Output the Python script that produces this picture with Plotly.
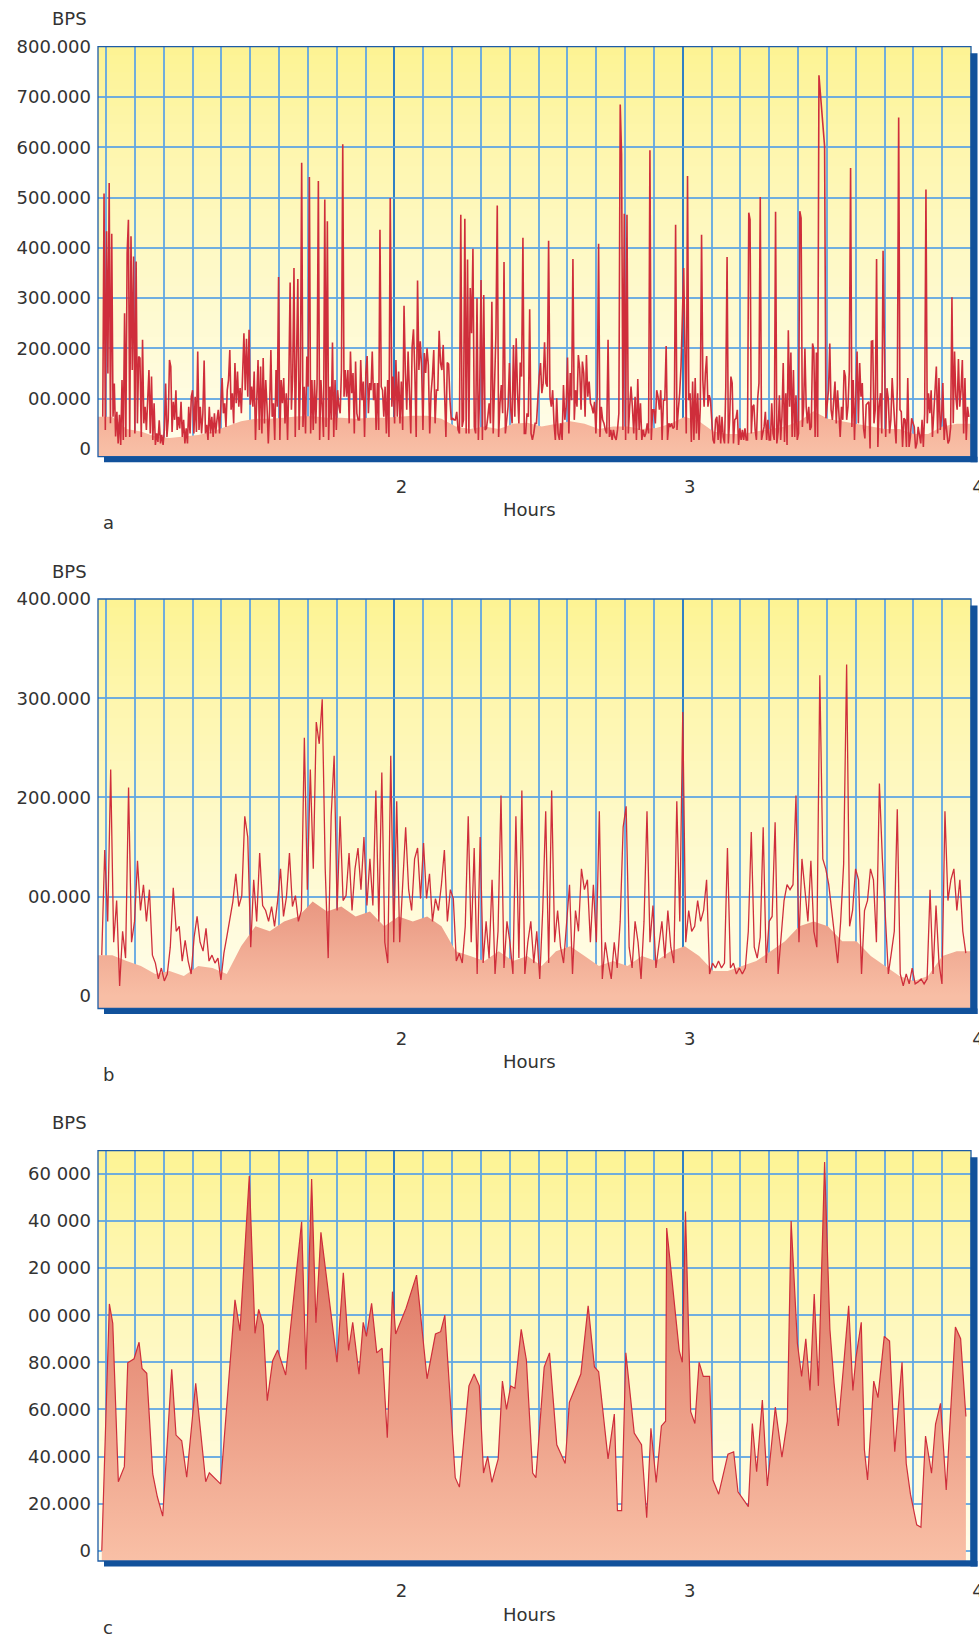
import numpy as np
import plotly.graph_objects as go

# ----------------------------- DATA (values in thousands of BPS) -----------------------------
# Panel a: raw samples, four contiguous runs of equally spaced samples
A1_KBPS = [64,508,38,433,150,529,51,428,64,130,
           25,74,11,68,8,137,18,270,24,390,
           456,24,423,157,383,31,373,51,184,181,
           24,217,51,84,38,84,157,31,144,18,
           91,8,31,14,57,11,28,8,38,130,
           24,58,177,164,34,94,58,117,38,64,
           41,94,24,58,11,41,11,84,31,104,
           117,31,104,34,194,38,84,31,71,176,
           31,48,18,84,31,64,24,71,31,58,
           78,31,97,141,71,91,44,117,137,197,
           78,111,51,171,91,154,84,121,71,151,
           230,117,219,104,237,88,124,84,154,18,
           111,177,38,164,31,181,51,137,84,11,
           78,197,64,91,18,157,84,342,18,137,
           91,141,51,111,18,137,331,78,144,360,
           24,171,338,38,137,569,44,124,31,184,
           124,541,31,137,38,137,51,131,533,18,
           137,84,24,496,44,453,18,124,58,212,
           24,137,38,117,84,71,157,606,104,157,
           104,157,51,194,111,151,31,174,71,58,
           58,177,97,134,24,151,185,71,131,117,
           194,97,131,38,131,38,436,124,117,64,
           124,31,137,24,499]
A1_HOURS = (0.9885, 1.9856)

A2_KBPS = [84,144,51,177,64,154,51,134,38,285,
           151,78,194,124,31,204,238,151,24,335,
           157,214,164,38,191,151,200,167,31,111,
           144,197,51,117,117,235,171,157,207,111,
           24,172,169,97,58,61,58,58,74,38,
           31,466,44,58,458,31,377,31,320,230,
           398,44,31,300,18,117,336,18,306,38,
           41,64,91,51,293,31,131,227,484,24,
           91,127,71,372,31,64,84,171,78,51,
           207,64,220,111,51,172,144,420,31,31,
           71,64,278,31,18,31,51,51,107,144,
           171,111,131,212,131,124,414,104,84,117,
           51,18,101,31,18,51,18,127,58,84,
           182,31,151,97,378,58,117,84,187,161,
           78,174,151,64,187,104,134,91,84,71,
           94,31,111,408,24,84,58,51,38,31,
           217,24,38,18,38,24,18,38,71,685,
           586,38,468,18,466,31,84,124,84,31,
           104,18,139,38,91,18,38,24,31,51,
           31,594,18,78,78,51,117,104,78,117,
           18,97,97,205,18,51,44,51,41,44,
           446,38,78,111,164]
A2_HOURS = (1.9913, 2.9942)

A3_KBPS = [360,191,31,543,97,111,14,134,18,141,
           31,111,18,84,426,137,84,151,185,84,
           107,97,64,18,11,58,64,18,67,11,
           64,24,11,124,382,11,58,144,131,11,
           58,61,78,8,41,18,38,18,41,18,
           18,470,456,31,84,88,38,18,101,131,
           501,18,31,44,74,18,58,18,18,91,
           31,18,472,11,34,107,18,64,171,14,
           111,8,236,84,192,24,157,24,107,18,
           31,473,459,44,84,200,84,51,84,38,
           44,210,197,24,192,24,743]
A3_HOURS = (3.0035, 3.4726)

A4_KBPS = [602,61,91,117,210,78,58,111,134,51,
           117,71,24,84,58,157,144,58,84,154,
           559,44,137,18,117,194,51,171,104,131,
           41,21,88,91,94,1,214,215,51,78,
           378,4,84,111,31,394,207,24,121,101,
           31,58,141,78,48,11,127,659,78,74,
           4,61,58,4,141,4,24,61,54,44,
           1,11,44,24,11,58,4,71,516,51,
           111,71,117,24,64,117,164,31,141,38,
           64,131,18,61,31,11,18,44,302,51,
           194,104,78,179,84,117,177,31,141,18,
           84,64]
A4_HOURS = (3.4922, 3.9925)

# Panel a: averaged traffic (filled area)
A_AVG_KBPS = [64,64,40,35,25,22,25,28,35,45,55,60,60,62,65,65,62,62,60,62,
              62,64,66,66,60,45,40,45,40,50,52,45,50,55,50,40,45,45,40,42,
              50,64,55,35,30,30,35,40,45,55,75,60,55,50,45,40,40,30,30,45,
              50,50]
A_AVG_HOURS = (0.972, 4.0)

# Panel b: raw samples
B_KBPS = [41,147,75,228,54,96,10,65,38,210,
          54,75,136,86,112,75,107,41,33,17,
          28,15,22,49,109,65,70,35,56,35,
          22,59,80,54,45,68,35,41,33,38,
          16,43,60,80,95,123,90,101,181,160,
          49,117,75,144,91,86,75,90,70,95,
          128,80,100,144,90,101,75,86,260,107,
          228,128,276,254,299,128,38,181,242,86,
          181,96,101,144,86,128,149,107,160,91,
          138,91,207,75,225,54,33,242,54,196,
          54,112,170,107,86,138,149,98,154,98,
          123,75,98,86,112,147,75,107,98,35,
          43,33,70,181,54,149,22,160,33,75,
          38,117,22,65,202,28,75,54,22,181,
          38,207,22,54,75,33,65,17,86,186,
          33,207,54,86,49,33,75,112,22,86,
          65,128,107,117,54,112,54,186,17,54,
          33,17,54,28,75,170,191,49,28,75,
          54,17,75,186,54,91,28,54,75,38,
          86,49,33,196,75,286,54,86,65,70,
          96,75,86,117,22,33,28,35,28,33,
          149,28,33,22,28,22,28,65,165,49,
          38,59,170,33,75,80,175,22,59,96,
          112,107,112,202,54,138,107,75,136,65,
          49,323,138,128,112,86,54,33,75,133,
          334,70,86,128,117,22,86,96,128,117,
          54,214,138,75,22,43,65,188,22,10,
          22,12,28,12,14,17,12,17,107,22,
          91,33,12,186,96,117,128,86,117,65,
          43]
B_HOURS = (0.985, 3.982)

# Panel b: averaged traffic (filled area)
B_AVG_KBPS = [41,41,35,30,22,25,20,30,28,22,50,70,65,75,80,95,85,90,80,85,
              70,80,75,80,70,45,40,35,45,35,40,30,45,50,40,30,35,30,40,35,
              45,50,40,25,25,30,35,45,55,70,75,70,55,55,40,30,20,15,20,40,
              45,45]
B_AVG_HOURS = (0.972, 4.0)

# Panel c: samples with their times (hours)
C_HOURS = [0.9851,1.0114,1.0232,1.0426,1.0634,1.0752,1.0971,1.1144,1.1248,1.1411,
           1.1619,1.1778,1.1965,1.2277,1.2426,1.2624,1.2797,1.3109,1.3456,1.3581,
           1.3976,1.4471,1.4645,1.4967,1.5165,1.5293,1.5452,1.5591,1.5778,1.5951,
           1.6229,1.6783,1.6932,1.7130,1.7279,1.7452,1.8010,1.8229,1.8412,1.8555,
           1.8773,1.8919,1.9029,1.9210,1.9390,1.9574,1.9754,1.9934,2.0045,2.0406,
           2.0769,2.1133,2.1425,2.1605,2.1750,2.2111,2.2256,2.2586,2.2766,2.2946,
           2.3092,2.3237,2.3383,2.3601,2.3747,2.3889,2.4035,2.4180,2.4399,2.4579,
           2.4797,2.4908,2.5196,2.5380,2.5633,2.5924,2.6069,2.6357,2.6468,2.6721,
           2.6939,2.7085,2.7411,2.7629,2.7737,2.7882,2.8028,2.8319,2.8572,2.8752,
           2.8898,2.9081,2.9262,2.9407,2.9445,2.9879,2.9986,3.0097,
           3.0277,3.0423,3.0569,3.0714,3.0932,3.1050,3.1248,3.1570,3.1768,3.1917,
           3.2277,3.2416,3.2565,3.2763,3.2936,3.3213,3.3442,3.3629,3.3761,3.3979,
           3.4125,3.4270,3.4416,3.4562,3.4707,3.4922,3.5106,3.5251,3.5397,3.5577,
           3.5757,3.5903,3.6010,3.6194,3.6302,3.6412,3.6627,3.6773,3.6991,3.7175,
           3.7355,3.7608,3.7754,3.7899,3.8118,3.8263,3.8423,3.8631,3.8770,3.8943,
           3.9141,3.9459,3.9640,3.9823]
C_KBPS = [0,104.8,96.6,29.3,35.7,79.8,81.5,88.5,77.4,75.3,
          32.6,22.9,14.7,77,49.1,46.7,31.2,71.1,29.3,33.1,
          28.3,106.5,93.4,159.1,92.3,102.5,95.8,63.7,80.7,85.2,
          74.6,139.7,77,157.8,96.8,135.2,80,118,85,97,
          75,97,91,105,84,86,48,110,92,103,
          117,73,92,93,100,31,27,70,75,70,
          33,40,29,39,72,60,70,69,94,81,
          33,31,78,84,45,37,63,72,75,104,
          78,76,39,58,17,17,84,50,45,14,
          52,29,53,55,137,85,80,144,
          59,54,80,74,74,30,24,41,42,25,
          18.7,54,33.5,64,27.5,61,39.7,55,140,88,
          74,90,68,109,70,165,94,71,53,78,
          104,68,82,97,43,30,72,65,91,89,
          42,80,37,24,11,10,48.7,32.9,53.8,62.6,
          25.8,95,90,57]

# Tick values / labels
X_TICKS = [2, 3, 4]
X_TICK_TEXT = ["2", "3", "4"]
A_Y_TICKS = [0, 100000, 200000, 300000, 400000, 500000, 600000, 700000, 800000]
A_Y_TEXT = ["0", "00.000", "200.000", "300.000", "400.000", "500.000", "600.000", "700.000", "800.000"]
B_Y_TICKS = [0, 100000, 200000, 300000, 400000]
B_Y_TEXT = ["0", "00.000", "200.000", "300.000", "400.000"]
C_Y_TICKS = [0, 20000, 40000, 60000, 80000, 100000, 120000, 140000, 160000]
C_Y_TEXT = ["0", "20.000", "40.000", "60.000", "80.000", "00 000", "20 000", "40 000", "60 000"]

# ----------------------------- LAYOUT / STYLE -----------------------------
FIG_W, FIG_H = 979, 1641
X_RANGE = [0.972, 4.0]
PANELS = [
    dict(name="a", box=(98, 46.7, 971, 456.7), yr=[-15300, 800000], yt=A_Y_TICKS, ytx=A_Y_TEXT),
    dict(name="b", box=(98, 599, 971, 1008.5), yr=[-12800, 400000], yt=B_Y_TICKS, ytx=B_Y_TEXT),
    dict(name="c", box=(98, 1150.7, 971, 1561), yr=[-4370, 169850], yt=C_Y_TICKS, ytx=C_Y_TEXT),
]
FONT = "DejaVu Sans, Verdana, sans-serif"
FSIZE = 18
TXT = "#333333"
GRID = "rgba(96,165,226,0.9)"
GRID_MAJOR = "#2f80c4"
LINE_RED = "#cf2e3b"
SHADOW = "#11519b"
BORDER = "#1d5ca6"


def px(x):
    return x / FIG_W


def py(y):
    return 1 - y / FIG_H


def run_x(vals, span):
    return np.linspace(span[0], span[1], len(vals))


fig = go.Figure()
shapes, annotations = [], []

for i, p in enumerate(PANELS):
    sfx = "" if i == 0 else str(i + 1)
    xa, ya = "x" + sfx, "y" + sfx
    l, t, r, b = p["box"]
    fig.layout["xaxis" + sfx] = dict(
        domain=[px(l), px(r)], range=X_RANGE, anchor=ya, automargin=False, fixedrange=True,
        tickvals=X_TICKS, ticktext=X_TICK_TEXT, ticks="", showline=False, zeroline=False,
        showgrid=True, gridcolor=GRID_MAJOR, gridwidth=1.6,
        minor=dict(tick0=1, dtick=0.1, showgrid=True, gridcolor=GRID, gridwidth=1.5),
        tickfont=dict(family=FONT, size=FSIZE, color=TXT), ticklabeloverflow="allow",
        ticklabelstandoff=17, ticklabelshift=7,
    )
    fig.layout["yaxis" + sfx] = dict(
        domain=[py(b), py(t)], range=p["yr"], anchor=xa, automargin=False, fixedrange=True,
        tickvals=p["yt"], ticktext=p["ytx"], ticks="", showline=False, zeroline=False,
        showgrid=True, gridcolor=GRID, gridwidth=1.5, ticklabeloverflow="allow",
        tickfont=dict(family=FONT, size=FSIZE, color=TXT), ticklabelstandoff=6,
    )
    floor = p["yr"][0]

    # gradient background (stripes)
    n = 48
    top_c, bot_c = (253, 243, 146), (255, 253, 236)
    for k in range(n):
        tt = ((k + 0.5) / n) ** 0.85
        c = tuple(round(a + (bb - a) * tt) for a, bb in zip(top_c, bot_c))
        shapes.append(dict(type="rect", xref=xa + " domain", yref=ya + " domain",
                           x0=0, x1=1, y0=max(0, 1 - (k + 1) / n - 0.004), y1=1 - k / n,
                           fillcolor="rgb(%d,%d,%d)" % c, line=dict(width=0), layer="below"))
    # border
    shapes.append(dict(type="rect", xref=xa + " domain", yref=ya + " domain", x0=0, x1=1, y0=0, y1=1,
                       line=dict(color=BORDER, width=1.3), fillcolor="rgba(0,0,0,0)", layer="above"))
    # drop shadow
    shapes.append(dict(type="rect", xref="paper", yref="paper", x0=px(r - 0.5), x1=px(r + 6.5),
                       y0=py(b + 5.5), y1=py(t + 6.5), fillcolor=SHADOW, line=dict(width=0)))
    shapes.append(dict(type="rect", xref="paper", yref="paper", x0=px(l + 6), x1=px(r + 6.5),
                       y0=py(b + 5.5), y1=py(b), fillcolor=SHADOW, line=dict(width=0)))

    # text annotations
    annotations.append(dict(text="BPS", xref="paper", yref="paper", x=px(69), y=py(t - 28),
                            showarrow=False, xanchor="center", yanchor="middle",
                            font=dict(family=FONT, size=FSIZE, color=TXT)))
    annotations.append(dict(text="Hours", xref="paper", yref="paper", x=px(529), y=py(b + 53),
                            showarrow=False, xanchor="center", yanchor="middle",
                            font=dict(family=FONT, size=FSIZE, color=TXT)))
    annotations.append(dict(text=p["name"], xref="paper", yref="paper", x=px(101), y=py(b + 66),
                            showarrow=False, xanchor="left", yanchor="middle",
                            font=dict(family=FONT, size=FSIZE, color=TXT)))

    def baseline(xs):
        fig.add_trace(go.Scatter(x=[xs[0], xs[-1]], y=[floor, floor], xaxis=xa, yaxis=ya,
                                 mode="lines", line=dict(width=0), hoverinfo="skip", showlegend=False))

    if p["name"] == "a":
        ax = run_x(A_AVG_KBPS, A_AVG_HOURS)
        baseline(ax)
        fig.add_trace(go.Scatter(x=ax, y=np.array(A_AVG_KBPS) * 1000, xaxis=xa, yaxis=ya, mode="lines",
                                 line=dict(width=0), fill="tonexty",
                                 fillgradient=dict(type="vertical", start=0, stop=100000,
                                                   colorscale=[[0, "#f8bea5"], [1, "#f3a890"]]),
                                 hoverinfo="skip", showlegend=False))
        xs = np.concatenate([run_x(A1_KBPS, A1_HOURS), run_x(A2_KBPS, A2_HOURS),
                             run_x(A3_KBPS, A3_HOURS), run_x(A4_KBPS, A4_HOURS)])
        ys = np.array(A1_KBPS + A2_KBPS + A3_KBPS + A4_KBPS) * 1000
        fig.add_trace(go.Scatter(x=xs, y=ys, xaxis=xa, yaxis=ya, mode="lines",
                                 line=dict(color=LINE_RED, width=1.6), showlegend=False))
    elif p["name"] == "b":
        bx = run_x(B_AVG_KBPS, B_AVG_HOURS)
        baseline(bx)
        fig.add_trace(go.Scatter(x=bx, y=np.array(B_AVG_KBPS) * 1000, xaxis=xa, yaxis=ya, mode="lines",
                                 line=dict(width=0), fill="tonexty",
                                 fillgradient=dict(type="vertical", start=0, stop=150000,
                                                   colorscale=[[0, "#f8bea5"], [1, "#e0806c"]]),
                                 hoverinfo="skip", showlegend=False))
        fig.add_trace(go.Scatter(x=run_x(B_KBPS, B_HOURS), y=np.array(B_KBPS) * 1000, xaxis=xa, yaxis=ya,
                                 mode="lines", line=dict(color=LINE_RED, width=1.3), showlegend=False))
    else:
        assert len(C_HOURS) == len(C_KBPS)
        baseline(C_HOURS)
        fig.add_trace(go.Scatter(x=C_HOURS, y=np.array(C_KBPS) * 1000, xaxis=xa, yaxis=ya, mode="lines",
                                 line=dict(color=LINE_RED, width=1.2), fill="tonexty",
                                 fillgradient=dict(type="vertical", start=-4370, stop=165000,
                                                   colorscale=[[0, "#f9c0a6"], [0.5, "#e8927c"], [1, "#d55a4c"]]),
                                 showlegend=False))

fig.update_layout(
    width=FIG_W, height=FIG_H, autosize=False,
    margin=dict(l=0, r=0, t=0, b=0, pad=0, autoexpand=False),
    paper_bgcolor="white", plot_bgcolor="rgba(0,0,0,0)",
    shapes=shapes, annotations=annotations, showlegend=False,
    font=dict(family=FONT, color=TXT), hovermode=False,
)

fig.write_html("out.html", config={"displayModeBar": False, "responsive": False},
               post_script="document.body.style.margin='0px';")
